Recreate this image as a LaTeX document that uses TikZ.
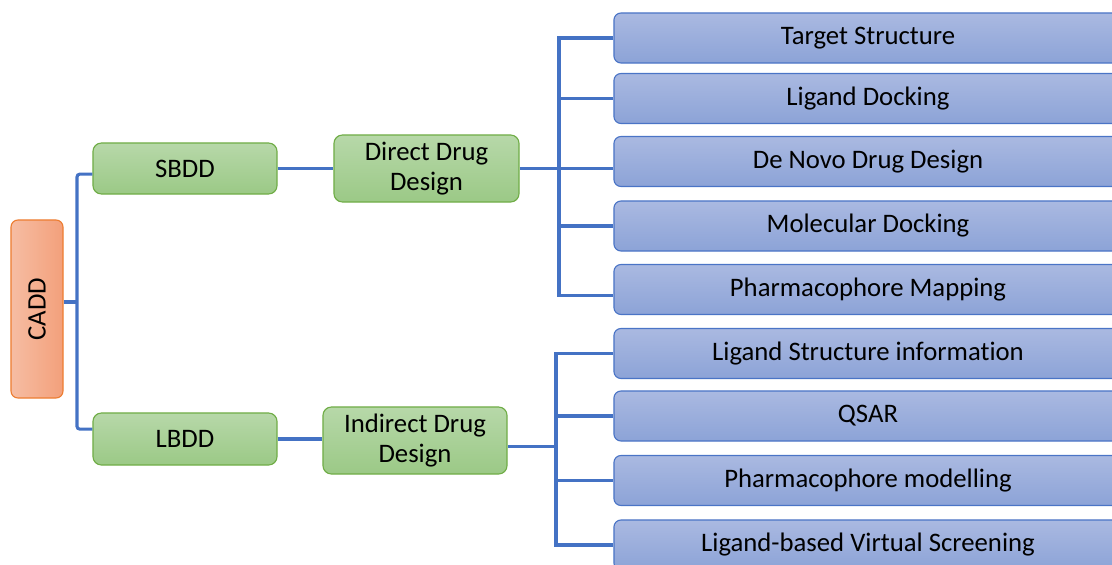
\documentclass[tikz,border=0pt]{standalone}
\usepackage{fontspec}
\setmainfont{Carlito}[Ligatures=NoCommon]
\usetikzlibrary{calc}

\definecolor{linkblue}{HTML}{4472C4}
\definecolor{leaftop}{HTML}{AAB9E1}
\definecolor{leafbot}{HTML}{8CA3D7}
\definecolor{leafedge}{HTML}{4A74C6}
\definecolor{greentop}{HTML}{B7D8A9}
\definecolor{greenbot}{HTML}{9BC986}
\definecolor{greenedge}{HTML}{70AD47}
\definecolor{rootleft}{HTML}{F6BDA3}
\definecolor{rootright}{HTML}{F3A07B}
\definecolor{rootedge}{HTML}{ED7D31}

\tikzset{
  link/.style={draw=linkblue, line width=2.2pt},
  leaf/.style={draw=leafedge, line width=0.8pt, rounded corners=5pt, top color=leaftop, bottom color=leafbot, minimum width=12.7cm, minimum height=1.25cm, inner sep=0pt, font=\fontsize{19}{22.5}\selectfont},
  branch/.style={draw=greenedge, line width=0.8pt, rounded corners=6pt, top color=greentop, bottom color=greenbot, minimum width=4.6cm, inner sep=0pt, align=center, font=\fontsize{19}{21.5}\selectfont},
  rootbox/.style={draw=rootedge, line width=0.8pt, rounded corners=5pt, left color=rootleft, right color=rootright, minimum width=1.3cm, minimum height=4.45cm, inner sep=0pt, font=\fontsize{19}{22.5}\selectfont}
}

\begin{document}
\begin{tikzpicture}[x=0.025cm, y=-0.025cm]
\useasboundingbox (0, 0) rectangle (1112, 565);
\clip (0, 0) rectangle (1112, 565);

\coordinate (ctrunk) at (77, 0);
\coordinate (dtrunk) at (559, 0);
\coordinate (itrunk) at (556, 0);

\node [rootbox] (cadd) at (37, 309) {\rotatebox{90}{CADD}};

\node [branch, minimum height=1.275cm] (sb) at (185, 168.5) {SBDD};
\node [branch, minimum height=1.3cm] (lb) at (185, 439) {LBDD};
\node [branch, minimum width=4.625cm, minimum height=1.675cm] (dd) at (426.5, 168.5) {Direct Drug\\Design};
\node [branch, minimum height=1.675cm] (id) at (415, 440.5) {Indirect Drug\\Design};

\node [leaf] (ts) at (868, 38) {Target Structure};
\node [leaf] (lig) at (868, 98.5) {Ligand Docking};
\node [leaf] (nov) at (868, 161.5) {De Novo Drug Design};
\node [leaf] (mol) at (868, 226) {Molecular Docking};
\node [leaf] (pm) at (868, 289.5) {Pharmacophore Mapping};
\node [leaf] (lsi) at (868, 353.5) {Ligand Structure information};
\node [leaf] (qsar) at (868, 416) {QSAR};
\node [leaf] (pmod) at (868, 480.5) {Pharmacophore modelling};
\node [leaf] (lvs) at (868, 545) {Ligand-based Virtual Screening};

% CADD splits into SBDD and LBDD
\draw [link] ([yshift=5pt]cadd.east) -- ([yshift=5pt]cadd.east -| ctrunk);
\draw [link, rounded corners=2pt] ([yshift=-4pt]sb.west) -- ([yshift=-4pt]sb.west -| ctrunk) -- ([yshift=7pt]lb.west -| ctrunk) -- ([yshift=7pt]lb.west);

\draw [link] (sb.east) -- (dd.west);
\draw [link] (lb.east) -- (lb.east -| id.west);

% direct design
\draw [link] (dd.east) -- (dd.east -| nov.west);
\draw [link] (ts.west) -- (ts.west -| dtrunk) -- ([yshift=-4pt]pm.west -| dtrunk) -- ([yshift=-4pt]pm.west);
\draw [link] (lig.west) -- (lig.west -| dtrunk);
\draw [link] (mol.west) -- (mol.west -| dtrunk);

% indirect design
\draw [link] ([yshift=-4pt]id.east) -- ([yshift=-4pt]id.east -| itrunk);
\draw [link] (lsi.west) -- (lsi.west -| itrunk) -- (lvs.west -| itrunk) -- (lvs.west);
\draw [link] (qsar.west) -- (qsar.west -| itrunk);
\draw [link] (pmod.west) -- (pmod.west -| itrunk);
\end{tikzpicture}
\end{document}
